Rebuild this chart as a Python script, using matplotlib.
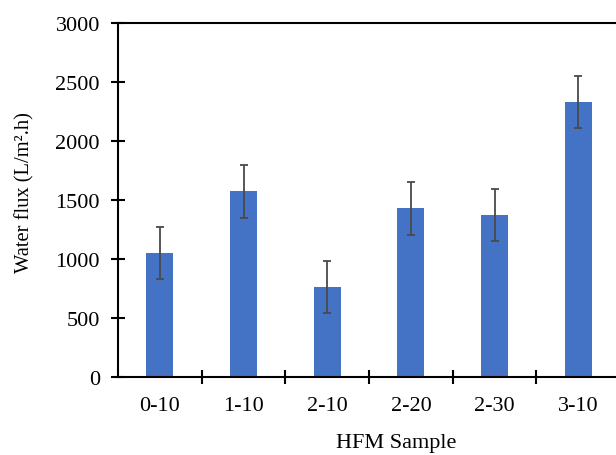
import numpy as np
import matplotlib
matplotlib.use('Agg')
import matplotlib.pyplot as plt

# data
samples = ['0-10', '1-10', '2-10', '2-20', '2-30', '3-10']
flux = [1055, 1575, 765, 1430, 1375, 2335]
flux_err = [220, 225, 220, 222, 220, 220]

plt.rcParams['font.family'] = ['Liberation Serif', 'DejaVu Serif']

fig = plt.figure(figsize=(6.16, 4.56), dpi=100)
# axes runs just past the right edge, as in the cropped original
ax = fig.add_axes([0.1916, 0.171, 0.815, 0.776])

x = np.arange(len(samples))
ax.bar(x, flux, width=0.32, color='#4472C4',
       yerr=flux_err, capsize=3.2,
       error_kw=dict(ecolor='#4a4a4a', elinewidth=1.3, capthick=1.3))

ax.set_xlim(-0.5, len(samples) - 0.5)
ax.set_ylim(0, 3000)
ax.set_yticks([0, 500, 1000, 1500, 2000, 2500, 3000])

ax.set_xticks(x)
ax.set_xticklabels(samples)
ax.set_xticks(np.arange(0.5, len(samples) - 0.5, 1), minor=True)
ax.tick_params(axis='x', which='major', length=0, pad=14, labelsize=16)
ax.tick_params(axis='x', which='minor', direction='inout', length=10, width=1.5)
ax.tick_params(axis='y', direction='inout', length=10, width=1.5, pad=8, labelsize=16)

for side in ['left', 'top', 'bottom']:
    ax.spines[side].set_linewidth(1.5)
    ax.spines[side].set_color('black')
ax.spines['right'].set_visible(False)

ax.set_ylabel('Water flux (L/m².h)', fontsize=14.8)
ax.set_xlabel('HFM Sample', fontsize=16)
ax.yaxis.set_label_coords(-0.186, 0.525)
ax.xaxis.set_label_coords(0.554, -0.186)
ax.xaxis.label.set_va('center')
ax.yaxis.label.set_va('center')

fig.savefig('out.png', dpi=100)
